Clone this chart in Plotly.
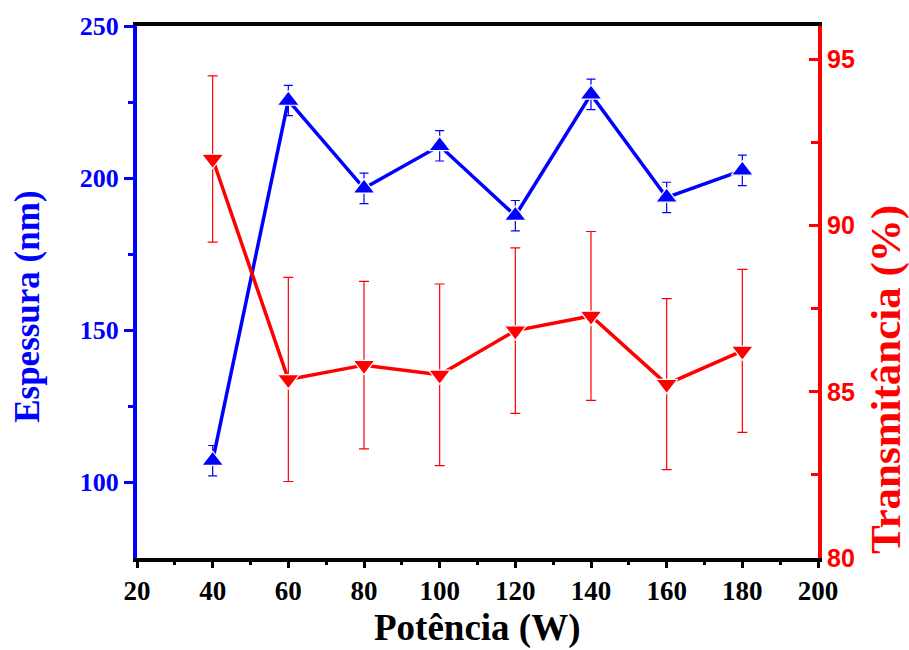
import plotly.graph_objects as go

# ---- data ----
power = [40, 60, 80, 100, 120, 140, 160, 180]
espessura = [107.0, 225.5, 196.6, 210.6, 187.6, 227.5, 193.6, 202.5]
espessura_err = [5, 5, 5, 5, 5, 5, 5, 5]
transmitancia = [92.0, 85.37, 85.8, 85.51, 86.84, 87.28, 85.23, 86.23]
transmitancia_err = [2.5, 3.07, 2.52, 2.73, 2.49, 2.54, 2.57, 2.45]

x_ticks = [20, 40, 60, 80, 100, 120, 140, 160, 180, 200]
y1_ticks = [100, 150, 200, 250]
y1_minor = [125, 175, 225]
y2_ticks = [80, 85, 90, 95]
y2_minor = [82.5, 87.5, 92.5]

BLUE = "#0000FF"
RED = "#FF0000"
SERIF = "Liberation Serif"
SANS = "Liberation Sans"

fig = go.Figure()

fig.add_trace(go.Scatter(
    x=power, y=espessura, mode="lines+markers", yaxis="y",
    line=dict(color=BLUE, width=3.5),
    marker=dict(symbol="triangle-up", size=19, color=BLUE,
                line=dict(color="white", width=1.2)),
    error_y=dict(type="data", array=espessura_err, visible=True,
                 color=BLUE, thickness=1.2, width=4.5),
    showlegend=False,
))

fig.add_trace(go.Scatter(
    x=power, y=transmitancia, mode="lines+markers", yaxis="y2",
    line=dict(color=RED, width=3.5),
    marker=dict(symbol="triangle-down", size=19, color=RED,
                line=dict(color="white", width=1.2)),
    error_y=dict(type="data", array=transmitancia_err, visible=True,
                 color=RED, thickness=1.2, width=5),
    showlegend=False,
))

fig.update_layout(
    width=909, height=650,
    margin=dict(l=137, r=91, t=20, b=92),
    plot_bgcolor="white", paper_bgcolor="white",
    showlegend=False,
    xaxis=dict(
        range=[20, 200], tickvals=x_ticks,
        ticks="outside", ticklen=6, tickwidth=3, tickcolor="black",
        minor=dict(dtick=10, tick0=20, ticks="outside", ticklen=3,
                   tickwidth=3, tickcolor="black"),
        showline=True, linewidth=3.5, linecolor="black", mirror=True,
        showgrid=False, zeroline=False,
        tickfont=dict(family=SERIF, size=27, color="black", weight="bold"),
    ),
    yaxis=dict(
        range=[75, 250], tickvals=y1_ticks,
        ticks="outside", ticklen=9, tickwidth=3, tickcolor=BLUE,
        minor=dict(tickvals=y1_minor, ticks="outside", ticklen=5,
                   tickwidth=3, tickcolor=BLUE),
        showline=True, linewidth=4, linecolor=BLUE,
        showgrid=False, zeroline=False,
        tickfont=dict(family=SERIF, size=26, color=BLUE, weight="bold"),
    ),
    yaxis2=dict(
        overlaying="y", side="right",
        range=[80, 96], tickvals=y2_ticks,
        ticks="inside", ticklen=9, tickwidth=3, tickcolor=RED,
        minor=dict(tickvals=y2_minor, ticks="inside", ticklen=7,
                   tickwidth=3, tickcolor=RED),
        showline=True, linewidth=4, linecolor=RED,
        showgrid=False, zeroline=False,
        tickfont=dict(family=SANS, size=25, color=RED, weight="bold"),
    ),
    annotations=[
        dict(text="Potência (W)", xref="paper", yref="paper",
             x=0.5, y=(650 - 629 - 92) / 538, xanchor="center", yanchor="middle",
             showarrow=False, borderpad=0,
             font=dict(family=SERIF, size=37, color="black", weight="bold")),
        dict(text="Espessura (nm)", xref="paper", yref="paper",
             x=(28 - 137) / 681, y=(650 - 304 - 92) / 538,
             xanchor="center", yanchor="middle", textangle=-90,
             showarrow=False, borderpad=0,
             font=dict(family=SERIF, size=35, color=BLUE, weight="bold")),
        dict(text="Transmitância (%)", xref="paper", yref="paper",
             x=(886 - 137) / 681, y=(650 - 378 - 92) / 538,
             xanchor="center", yanchor="middle", textangle=-90,
             showarrow=False, borderpad=0,
             font=dict(family=SERIF, size=43, color=RED, weight="bold")),
    ],
)

fig.write_html("out.html",
               config={"displayModeBar": False},
               post_script="document.body.style.margin='0px';document.body.style.padding='0px';")
